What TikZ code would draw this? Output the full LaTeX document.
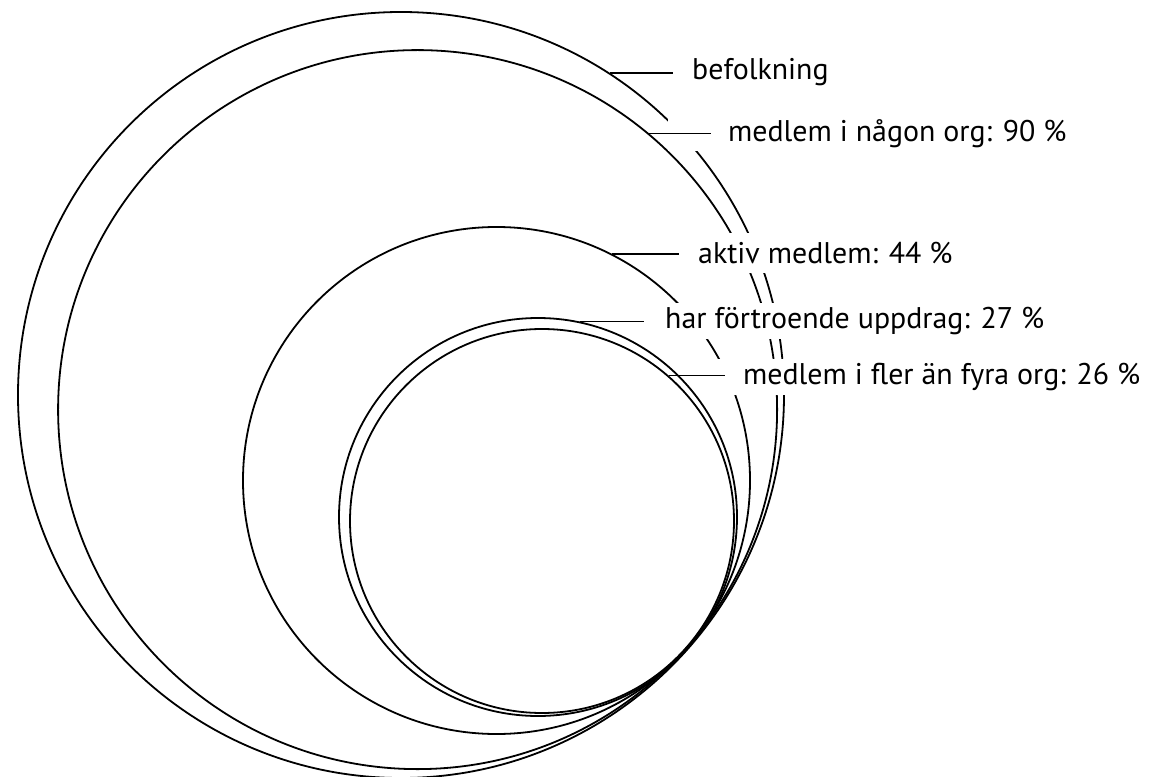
\documentclass[tikz,border=0pt]{standalone}
\usepackage{fontspec}
\setmainfont{PT Sans}
\usepackage{tikz}

\begin{document}
\begin{tikzpicture}[
    x=1bp, y=-1bp,
    ring/.style={
        draw,
        circle,
        line width=1.8bp,
        inner sep=0pt
    },
    tag/.style={
        anchor=west,
        fill=white,
        inner xsep=4bp,
        minimum height=36bp,
        font=\fontsize{30}{32}\selectfont
    },
    leader/.style={line width=1.8bp}
]
\useasboundingbox (0,0) rectangle (1153,777);

% circles, all touching at the lower right
\node[ring, minimum size=766bp] (pop) at (401,395) {};
\node[ring, minimum size=719bp] (member) at (417.6,409.6) {};
\node[ring, minimum size=507bp] (active) at (496.5,480.5) {};
\node[ring, minimum size=398bp] (trust) at (538,517) {};
\node[ring, minimum size=384bp] (multi) at (542,521) {};

% labels
\node[tag] (poptext) at (688,72) {befolkning};
\node[tag, inner xsep=60bp, minimum height=32bp] (membertext) at (668,134) {medlem i någon org: 90 \%};
\node[tag, minimum height=40bp] (activetext) at (694,253) {aktiv medlem: 44 \%};
\node[tag] (trusttext) at (661,321) {har förtroende uppdrag: 27 \%};
\node[tag, inner xsep=26bp] (multitext) at (717,377) {medlem i fler än fyra org: 26 \%};

\draw[leader] (pop.57.5) -- +(63,0);
\draw[leader] (member.50.5) -- +(62,0);
\draw[leader] (active.63.9) -- +(67,0);
\draw[leader] (trust.78.4) -- +(64,0);
\draw[leader] (multi.49.4) -- +(56,0);
\end{tikzpicture}
\end{document}
